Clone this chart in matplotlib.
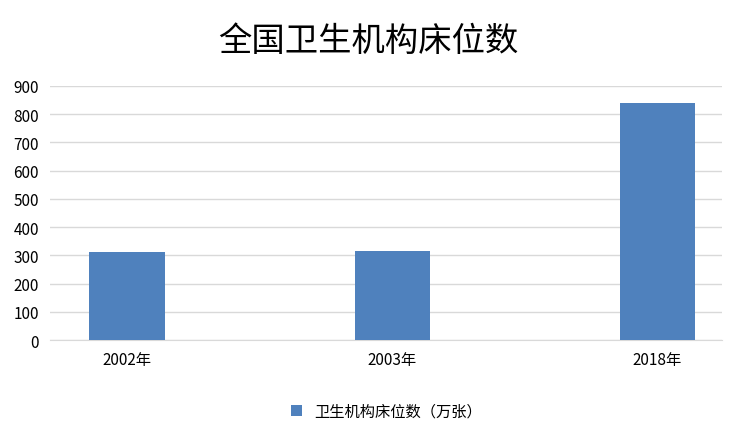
import matplotlib
matplotlib.use("Agg")
import matplotlib.pyplot as plt

plt.rcParams["font.family"] = ["Noto Sans CJK SC", "DejaVu Sans"]

years  = ["2002年", "2003年", "2018年"]
beds   = [313, 316, 840]
yticks = [0, 100, 200, 300, 400, 500, 600, 700, 800, 900]
series_name = "卫生机构床位数（万张）"

fig = plt.figure(figsize=(7.37, 4.39), dpi=100)
ax = fig.add_axes([0.068, 0.223, 0.912, 0.579])

x = range(len(years))
ax.bar(x, beds, width=0.283, color="#4f81bd", label=series_name, zorder=3)
ax.set_xticks(list(x))
ax.set_xticklabels(years, fontsize=11)
ax.set_yticks(yticks)
ax.set_yticklabels([str(v) for v in yticks], fontsize=11)
ax.set_ylim(0, 900)
ax.set_xlim(-0.29, 2.245)
ax.grid(axis="y", color="#d9d9d9", lw=1, zorder=0)
for s in ["top", "right", "left"]:
    ax.spines[s].set_visible(False)
ax.spines["bottom"].set_color("#d9d9d9")
ax.tick_params(length=0, pad=8, colors="#000000")

fig.text(0.5, 0.905, "全国卫生机构床位数", ha="center", va="center", fontsize=24)
ax.legend(loc="center", bbox_to_anchor=(0.5, -0.28), frameon=False, fontsize=11,
          handlelength=0.7, handleheight=0.7)

fig.savefig("out.png", dpi=100)
